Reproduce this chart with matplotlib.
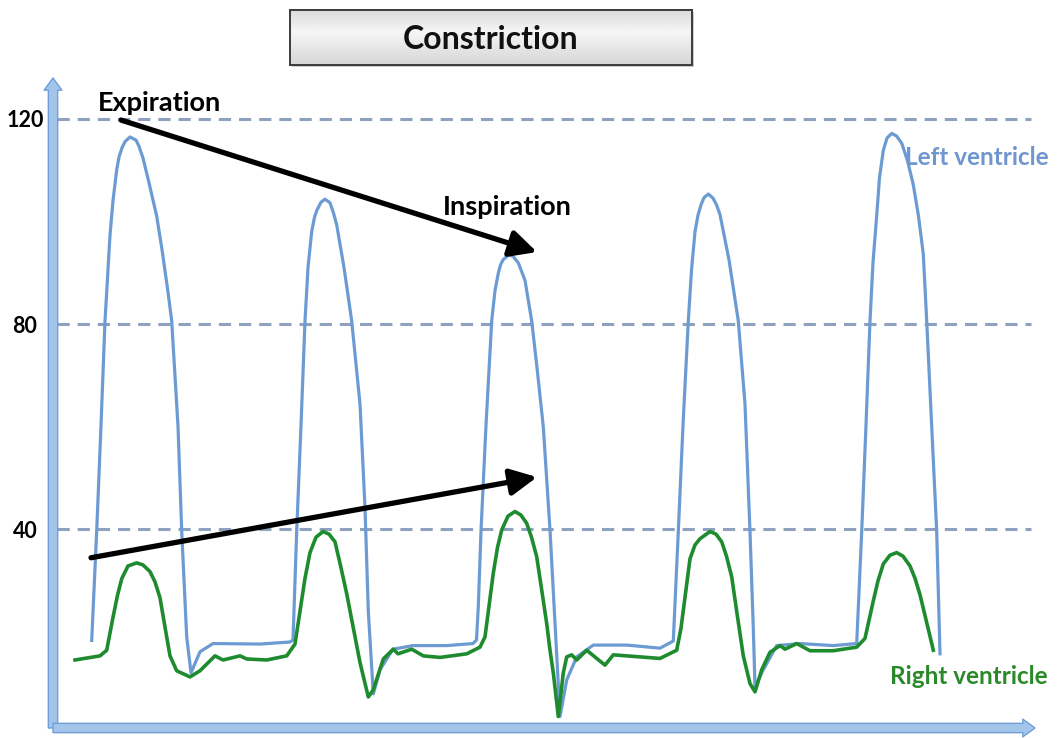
import numpy as np
import matplotlib
matplotlib.use('Agg')
import matplotlib.pyplot as plt
from matplotlib.patches import Rectangle

plt.rcParams['font.family'] = ['Lato', 'DejaVu Sans']

# pressure tracings (time in arbitrary units, pressure in mmHg)
lv_time = [38.7, 43.7, 48, 52, 57, 60, 63.7, 66, 69, 72, 77, 83, 86, 90, 96, 103.7, 109,
           115, 118.7, 125, 128.7, 133.7, 138, 147, 160, 207, 237,
           240, 243.7, 248, 252, 255, 258.7, 261.5, 264, 268, 272, 277, 280.5, 283.7, 291,
           298.7, 307, 312, 315.3, 320.3, 327, 340, 360, 393.7, 420,
           423.5, 425.3, 428, 433, 438.7, 442, 445.3, 447.5, 450, 455.3, 460, 465.3, 472,
           478.7, 484, 490.3, 497, 502, 507, 513.7, 523.7, 540.3, 573.7, 607, 620.3,
           625.3, 630, 635.3, 638.5, 642, 645, 648, 651, 655.3, 660, 663.5, 667, 676, 685.3,
           692, 697, 700.3, 702, 710.3, 723.7, 747, 780.3, 803.7,
           808.7, 813, 817, 820, 823.7, 826.5, 830.3, 834, 838.7, 843.5, 848.7, 854.5,
           860.3, 865.5, 870.3, 873.7, 878.7, 883.7, 887]
lv_pressure = [18.4, 39.7, 60.3, 80.6, 97.3, 104.0, 110.0, 112.5, 114.3, 115.5, 116.4, 115.8,
               114.6, 112.3, 107.5, 101.0, 94.5, 86.2, 80.6, 60.1, 39.7, 19.1, 12.1, 16.2,
               17.8, 17.7, 18.1,
               18.5, 39.7, 60.3, 80.6, 91.0, 98.0, 100.8, 102.2, 103.7, 104.3, 103.6, 101.6,
               99.3, 91.0, 80.6, 64.4, 44.3, 24.1, 8.0, 12.7, 16.7, 17.4, 17.4, 17.8,
               18.5, 25.0, 39.7, 60.3, 80.6, 86.5, 89.9, 91.5, 92.5, 93.4, 93.2, 91.9, 88.5,
               80.6, 71.5, 60.0, 39.9, 21.8, 3.6, 10.7, 15.2, 17.5, 17.5, 16.9, 18.3,
               39.6, 60.3, 80.6, 90.5, 98.0, 101.2, 103.2, 104.6, 105.3, 104.5, 103.2, 101.3,
               92.5, 80.6, 64.4, 39.6, 20.8, 9.3, 12.7, 17.4, 17.8, 17.4, 17.8,
               39.6, 60.3, 80.6, 92.0, 101.1, 108.5, 113.8, 116.2, 117.1, 116.6, 115.2, 111.8,
               107.1, 101.0, 93.6, 80.6, 60.1, 39.6, 15.8]

rv_time = [22, 47, 53.7, 60, 64.5, 68.7, 75, 83.7, 90, 97, 102, 107, 112, 117, 123.7, 137,
           147, 162, 170, 187, 193.7, 213.7, 233.7, 242,
           247, 252, 257, 263, 270, 276, 282, 287.5, 293.7, 307, 315.3, 320.3, 330.3, 340.3,
           345, 358.7, 370.3, 387, 413.7, 427, 432,
           440.3, 444.5, 448.7, 455, 462, 468, 473.7, 478.5, 483.7, 488.5, 493.7, 497, 500.3,
           505.3, 510.3, 513.7, 518.7, 523.7, 533.7, 543.7, 552, 560.3, 587, 607, 623.7,
           628, 637, 642, 647, 657, 663, 668.7, 673.5, 678.7, 684.5, 690.3, 697, 702, 708.7,
           717, 727, 732, 743.7, 757, 780.3, 803.7,
           812, 820.3, 825, 830.3, 837, 843.7, 850, 857, 862, 867, 875.3, 880.3]
rv_pressure = [14.6, 15.4, 16.5, 22.9, 27.2, 30.4, 32.9, 33.5, 33.1, 31.8, 29.8, 26.7, 21.0,
               15.4, 12.5, 11.3, 12.5, 15.4, 14.6, 15.4, 14.8, 14.6, 15.4, 17.7,
               24.1, 30.5, 35.5, 38.5, 39.6, 39.1, 37.6, 33.0, 27.5, 14.1, 7.4, 8.8, 14.8, 16.7,
               15.8, 16.7, 15.4, 15.1, 15.8, 17.1, 19.1,
               31.5, 36.5, 39.9, 42.6, 43.5, 42.8, 41.2, 38.5, 34.7, 28.5, 21.7, 16.5, 12.1,
               3.6, 12.1, 15.2, 15.6, 14.6, 16.5, 14.9, 13.6, 15.6, 15.2, 14.9, 16.5,
               20.8, 34.3, 37.0, 38.2, 39.6, 39.1, 37.6, 34.8, 30.8, 23.0, 15.4, 10.0, 8.4,
               12.7, 16.1, 17.4, 16.7, 17.8, 16.4, 16.4, 17.1,
               18.8, 26.1, 30.0, 33.3, 35.0, 35.5, 34.8, 32.9, 30.5, 27.3, 20.6, 16.5]

grid_levels = [40, 80, 120]

LV_COLOR = '#6b9bd2'
RV_COLOR = '#1f8b2f'

fig = plt.figure(figsize=(10.57, 7.38), dpi=100)
ax = fig.add_axes([54 / 1057, 10 / 738, 1003 / 1057, 728 / 738])
ax.set_facecolor('none')
ax.set_xlim(1, 1004)
ax.set_ylim(1.36, 143.07)
for s in ax.spines.values():
    s.set_visible(False)
ax.set_xticks([])
ax.set_yticks(grid_levels)
ax.set_yticklabels([str(v) for v in grid_levels], fontsize=15.5, fontweight='bold')
ax.tick_params(axis='y', length=0, pad=21)
for lbl in ax.get_yticklabels():
    lbl.set_horizontalalignment('center')

# dashed reference lines
ax.hlines(grid_levels, 4, 978, colors='#8ea2bf', lw=2.2,
          linestyles=(0, (4.0, 2.6)), zorder=1)

# axes drawn as block arrows
axis_style = 'simple,head_length=0.55,head_width=0.8,tail_width=0.42'
ax.annotate('', xy=(0, 127.9), xytext=(0, 1.36),
            arrowprops=dict(arrowstyle=axis_style, mutation_scale=16,
                            fc='#a3c5ea', ec='#6f9fd6', lw=1, shrinkA=0, shrinkB=0),
            annotation_clip=False, zorder=2)
ax.annotate('', xy=(982, 1.36), xytext=(0, 1.36),
            arrowprops=dict(arrowstyle=axis_style, mutation_scale=16,
                            fc='#a3c5ea', ec='#6f9fd6', lw=1, shrinkA=0, shrinkB=0),
            annotation_clip=False, zorder=2)

ax.plot(lv_time, lv_pressure, color=LV_COLOR, lw=2.3, solid_joinstyle='round', zorder=3)
ax.plot(rv_time, rv_pressure, color=RV_COLOR, lw=2.6, solid_joinstyle='round', zorder=4)

# respiratory trend arrows
arrow_kw = dict(arrowstyle='-|>,head_length=1.0,head_width=0.5', mutation_scale=16,
                lw=3.8, color='black', shrinkA=0, shrinkB=0)
ax.annotate('', xy=(484, 94.0), xytext=(68, 119.7), arrowprops=arrow_kw, zorder=5)
ax.annotate('', xy=(484, 50.2), xytext=(38, 34.5), arrowprops=arrow_kw, zorder=5)

ax.text(45, 123.0, 'Expiration', fontsize=19.5, fontweight='bold', ha='left', va='center')
ax.text(390, 102.8, 'Inspiration', fontsize=19.5, fontweight='bold', ha='left', va='center')
ax.text(852, 112.5, 'Left ventricle', fontsize=17.5, fontweight='bold', color='#6f96cf',
        ha='left', va='center')
ax.text(837, 11.3, 'Right ventricle', fontsize=17.5, fontweight='bold', color='#2a8a2a',
        ha='left', va='center')

# title box with a grey gradient and a soft shadow
fig.patches.append(Rectangle((292 / 1057, 1 - 67 / 738), 402 / 1057, 55 / 738,
                             transform=fig.transFigure, fc='#9a9a9a', ec='none',
                             alpha=0.5, zorder=-1))
tax = fig.add_axes([290 / 1057, 1 - 65 / 738, 402 / 1057, 55 / 738])
tax.set_zorder(2)
shade = np.concatenate([np.linspace(0.86, 0.96, 20), np.linspace(0.96, 0.84, 30)])
tax.imshow(shade[:, None], cmap='gray', vmin=0, vmax=1, aspect='auto',
           extent=(0, 1, 0, 1))
tax.set_xticks([])
tax.set_yticks([])
for s in tax.spines.values():
    s.set_color('#3c3c3c')
    s.set_linewidth(1.4)
tax.text(0.5, 0.47, 'Constriction', transform=tax.transAxes, ha='center', va='center',
         fontsize=23, fontweight='bold', color='#111111', zorder=5)

fig.savefig('out.png', dpi=100)
